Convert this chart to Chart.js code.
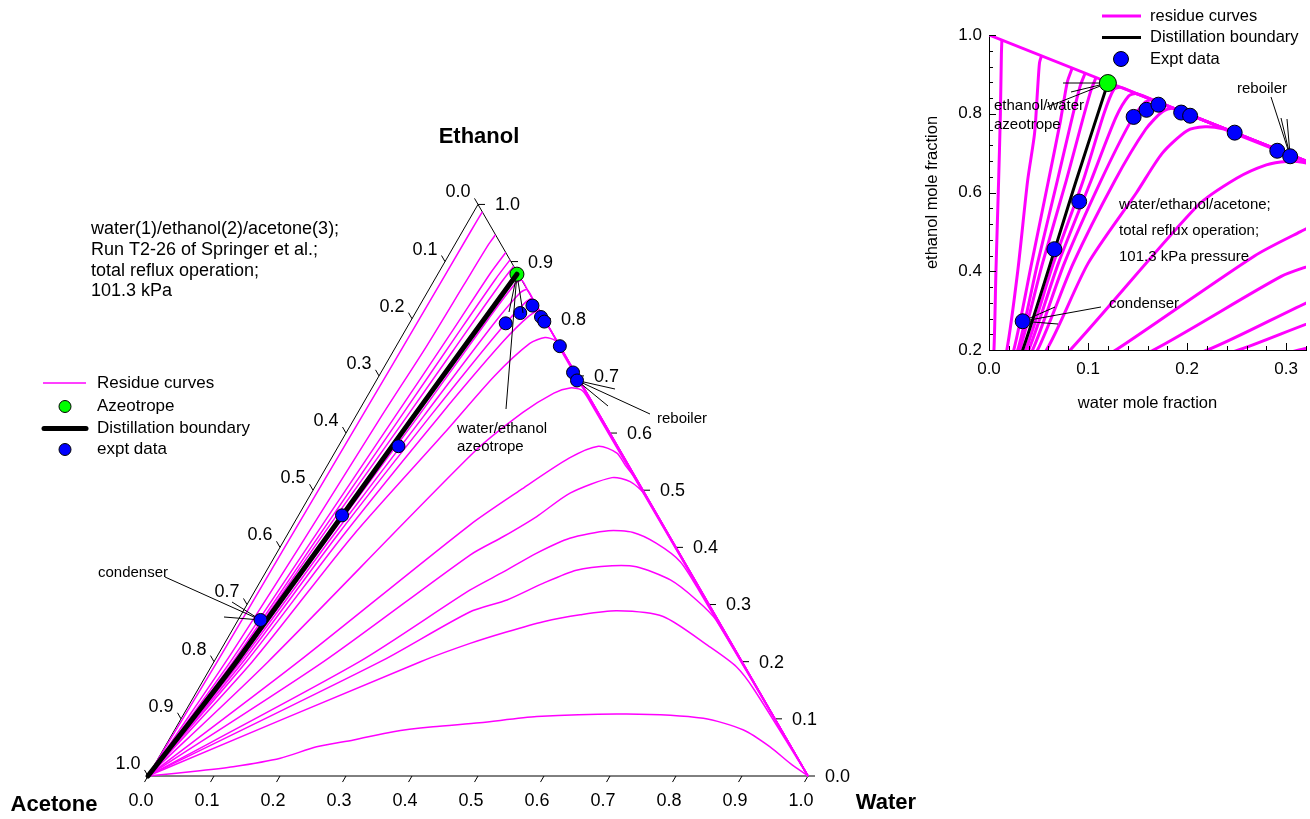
<!DOCTYPE html>
<html>
<head>
<meta charset="utf-8">
<script src="https://cdn.jsdelivr.net/npm/chart.js@4.4.1/dist/chart.umd.min.js"></script>
<style>
  html, body { margin: 0; padding: 0; background: #fff; width: 1310px; height: 819px; overflow: hidden; position: relative; }
  #ternary { position: absolute; left: 0; top: 0; }
  #xy { position: absolute; left: 910px; top: 0; }
</style>
</head>
<body>
<canvas id="ternary" width="930" height="819"></canvas>
<canvas id="xy" width="400" height="420"></canvas>
<script>
// Compositions are [water, ethanol] mole fractions; acetone = 1 - water - ethanol.

// Residue curves that end in pure ethanol (left of the distillation boundary)
const ethanolRegionCurves = [
  [[0,0],[0.005,0.2],[0.007,0.4],[0.0097,0.63],[0.0115,0.8],[0.0125,0.95],[0.013,0.987]],
  [[0,0],[0.018,0.2],[0.029,0.4],[0.039,0.63],[0.046,0.75],[0.049,0.86],[0.051,0.93],[0.053,0.947]],
  [[0,0],[0.025,0.2],[0.043,0.42],[0.060,0.63],[0.072,0.78],[0.079,0.88],[0.084,0.916]],
  [[0,0],[0.029,0.2],[0.049,0.42],[0.069,0.63],[0.083,0.78],[0.092,0.87],[0.097,0.903]],
  [[0,0],[0.031,0.2],[0.054,0.42],[0.078,0.63],[0.094,0.78],[0.103,0.86],[0.108,0.892]]
];

// Residue curves that end in pure water (right of the distillation boundary)
const waterRegionCurves = [
  [[0,0],[0.037,0.2],[0.065,0.42],[0.095,0.63],[0.116,0.8],[0.126,0.862],[0.133,0.867],[0.15,0.85],[1,0]],
  [[0,0],[0.040,0.2],[0.070,0.42],[0.103,0.63],[0.128,0.79],[0.141,0.845],[0.149,0.851],[0.17,0.83],[1,0]],
  [[0,0],[0.044,0.2],[0.076,0.42],[0.113,0.63],[0.143,0.78],[0.158,0.83],[0.165,0.835],[0.19,0.81],[1,0]],
  [[0,0],[0.049,0.2],[0.085,0.42],[0.127,0.63],[0.158,0.76],[0.175,0.805],[0.186,0.814],[0.21,0.79],[1,0]],
  [[0,0],[0.058,0.2],[0.100,0.42],[0.149,0.6],[0.175,0.7],[0.200,0.757],[0.218,0.767],[0.236,0.762],[0.252,0.746],[1,0]],
  [[0,0],[0.082,0.2],[0.210,0.565],[0.250,0.636],[0.280,0.670],[0.300,0.679],[0.318,0.676],[0.336,0.661],[1,0]],
  [[0,0],[0.128,0.2],[0.268,0.439],[0.314,0.5],[0.360,0.556],[0.394,0.577],[0.428,0.565],[0.452,0.543],[0.482,0.517],[1,0]],
  [[0,0],[0.166,0.2],[0.295,0.387],[0.329,0.419],[0.362,0.454],[0.392,0.495],[0.442,0.522],[0.473,0.515],[0.507,0.492],[1,0]],
  [[0,0],[0.2205,0.2],[0.325,0.325],[0.360,0.357],[0.394,0.39],[0.431,0.416],[0.483,0.429],[0.522,0.426],[0.567,0.407],[0.619,0.375],[0.675,0.322],[1,0]],
  [[0,0],[0.252,0.2],[0.344,0.287],[0.390,0.308],[0.430,0.337],[0.469,0.36],[0.519,0.368],[0.557,0.366],[0.620,0.343],[0.677,0.308],[0.724,0.273],[1,0]],
  [[0,0],[0.313,0.2],[0.372,0.232],[0.417,0.252],[0.464,0.27],[0.514,0.282],[0.566,0.289],[0.641,0.279],[0.738,0.226],[0.796,0.191],[0.844,0.15],[1,0]],
  [[0,0],[0.074,0.009],[0.121,0.016],[0.185,0.031],[0.230,0.051],[0.280,0.063],[0.333,0.0775],[0.389,0.086],[0.456,0.093],[0.537,0.104],[0.671,0.1085],[0.791,0.101],[0.862,0.0805],[0.917,0.051],[0.962,0.022],[1,0]]
];

const distillationBoundary = [[0,0],[0.034,0.2],[0.088,0.63],[0.120,0.878]];
const azeotrope = [[0.120,0.878]];

// Column profile, condenser first, reboiler last
const exptData = [
  [0.034,0.273],[0.066,0.456],[0.091,0.577],[0.146,0.792],[0.159,0.810],[0.171,0.823],
  [0.194,0.803],[0.203,0.795],[0.248,0.752],[0.291,0.706],[0.304,0.692]
];

const ternaryTicks = [0.0,0.1,0.2,0.3,0.4,0.5,0.6,0.7,0.8,0.9,1.0];

const FONT = '"Liberation Sans", Arial, Helvetica, sans-serif';
const MAGENTA = '#ff00ff', BLUE = '#0000ff', GREEN = '#00ff00', BLACK = '#000000';
const H = Math.sqrt(3) / 2;

const toTriangle = ([w, e]) => ({ x: w + e / 2, y: e * H });
const toXY = ([w, e]) => ({ x: w, y: e });

function font(size, bold) { return (bold ? 'bold ' : '') + size + 'px ' + FONT; }
function seg(ctx, a, b) { ctx.beginPath(); ctx.moveTo(a[0], a[1]); ctx.lineTo(b[0], b[1]); ctx.stroke(); }
function label(ctx, txt, x, y, align) {
  ctx.textAlign = align || 'left'; ctx.textBaseline = 'middle'; ctx.fillText(txt, x, y);
}
// leader lines from a marker edge out to fixed anchor points
function leaders(ctx, p, r, ends) {
  ends.forEach(([ex, ey]) => {
    const dx = ex - p[0], dy = ey - p[1], d = Math.hypot(dx, dy);
    seg(ctx, [p[0] + dx / d * r, p[1] + dy / d * r], [ex, ey]);
  });
}
function dot(ctx, x, y, r, fill) {
  ctx.beginPath(); ctx.arc(x, y, r, 0, Math.PI * 2);
  ctx.fillStyle = fill; ctx.fill(); ctx.lineWidth = 1; ctx.strokeStyle = BLACK; ctx.stroke();
}

function buildDatasets(map, lineW, boundaryW, markerR, aze, clip) {
  const curves = ethanolRegionCurves.concat(waterRegionCurves).map(c => ({
    data: c.map(map), showLine: true, borderColor: MAGENTA, borderWidth: lineW,
    pointRadius: 0, tension: 0.25, order: 5, clip: clip
  }));
  return curves.concat([
    { data: azeotrope.map(map), showLine: false, pointRadius: aze.r, pointBackgroundColor: GREEN,
      pointBorderColor: BLACK, pointBorderWidth: 1, order: aze.order, clip: false },
    { data: distillationBoundary.map(map), showLine: true, borderColor: BLACK, borderWidth: boundaryW,
      borderCapStyle: 'round', pointRadius: 0, tension: 0.2, order: 3, clip: clip },
    { data: exptData.map(map), showLine: false, pointRadius: markerR, pointBackgroundColor: BLUE,
      pointBorderColor: BLACK, pointBorderWidth: 1, order: 1, clip: false }
  ]);
}

/* ---------- ternary diagram ---------- */
const ternaryFrame = {
  id: 'ternaryFrame',
  beforeDatasetsDraw(chart) {
    const { ctx, scales: { x, y } } = chart;
    const P = (w, e) => [x.getPixelForValue(w + e / 2), y.getPixelForValue(e * H)];
    ctx.save();
    ctx.strokeStyle = BLACK; ctx.lineWidth = 1; ctx.fillStyle = BLACK;
    const A = P(0, 0), W = P(1, 0), E = P(0, 1);
    ctx.beginPath(); ctx.moveTo(A[0], A[1]); ctx.lineTo(W[0], W[1]); ctx.lineTo(E[0], E[1]); ctx.closePath(); ctx.stroke();
    const L = 7;
    ctx.font = font(18);
    ternaryTicks.forEach(t => {
      const s = t.toFixed(1);
      let p = P(t, 0);                       // water, bottom side
      seg(ctx, p, [p[0] - 0.5 * L, p[1] + H * L]);
      label(ctx, s, p[0] - 7, p[1] + 25, 'center');
      p = P(0, 1 - t);                       // acetone, left side
      seg(ctx, p, [p[0] - 0.5 * L, p[1] - H * L]);
      label(ctx, s, p[0] - 20, p[1] - 12, 'center');
      p = P(1 - t, t);                       // ethanol, right side
      seg(ctx, p, [p[0] + L, p[1]]);
      label(ctx, s, p[0] + 17, p[1] + 1, 'left');
    });
    ctx.font = font(22, true);
    label(ctx, 'Ethanol', E[0] + 1, 137, 'center');
    label(ctx, 'Acetone', 54, 805, 'center');
    label(ctx, 'Water', 886, 803, 'center');
    ctx.restore();
  },
  afterDatasetsDraw(chart) {
    const { ctx, scales: { x, y } } = chart;
    const P = ([w, e]) => [x.getPixelForValue(w + e / 2), y.getPixelForValue(e * H)];
    ctx.save();
    ctx.fillStyle = BLACK; ctx.strokeStyle = BLACK; ctx.lineWidth = 1;
    // run description
    ctx.font = font(18);
    ['water(1)/ethanol(2)/acetone(3);', 'Run T2-26 of Springer et al.;', 'total reflux operation;', '101.3 kPa']
      .forEach((s, i) => label(ctx, s, 91, 229 + i * 20.8, 'left'));
    // annotations
    ctx.font = font(15);
    label(ctx, 'water/ethanol', 457, 429); label(ctx, 'azeotrope', 457, 447);
    leaders(ctx, P(azeotrope[0]), 7, [[506, 409], [509, 312], [523, 313]]);
    label(ctx, 'reboiler', 657, 419);
    leaders(ctx, P(exptData[exptData.length - 1]), 6.5, [[650, 414], [615, 389], [608, 406]]);
    label(ctx, 'condenser', 98, 573);
    leaders(ctx, P(exptData[0]), 6.5, [[165, 577], [224, 617], [232, 602]]);
    // legend
    ctx.font = font(17);
    ctx.strokeStyle = MAGENTA; ctx.lineWidth = 1.5; seg(ctx, [43, 383], [86, 383]);
    label(ctx, 'Residue curves', 97, 383);
    dot(ctx, 65, 406.5, 6, GREEN);
    ctx.fillStyle = BLACK; label(ctx, 'Azeotrope', 97, 406.5);
    ctx.strokeStyle = BLACK; ctx.lineWidth = 5; ctx.lineCap = 'round'; seg(ctx, [44, 428.5], [86, 428.5]);
    ctx.lineCap = 'butt';
    label(ctx, 'Distillation boundary', 97, 428.5);
    dot(ctx, 65, 449.5, 6, BLUE);
    ctx.fillStyle = BLACK; label(ctx, 'expt data', 97, 449.5);
    ctx.restore();
  }
};

new Chart(document.getElementById('ternary'), {
  type: 'scatter',
  data: { datasets: buildDatasets(toTriangle, 1.5, 5, 6.5, { r: 7, order: 4 }, false) },
  options: {
    responsive: false, animation: false, events: [],
    layout: { padding: 0, autoPadding: false },
    plugins: { legend: { display: false }, tooltip: { enabled: false } },
    scales: {
      x: { type: 'linear', display: false, min: -148 / 660, max: 782 / 660 },
      y: { type: 'linear', display: false, min: -43 / 660, max: 776 / 660 }
    }
  },
  plugins: [ternaryFrame]
});

/* ---------- water/ethanol close-up ---------- */
const insetDecor = {
  id: 'insetDecor',
  beforeDatasetsDraw(chart) {
    const { ctx, chartArea: a, scales: { x, y } } = chart;
    // acetone-free side of the triangle
    ctx.save();
    ctx.beginPath(); ctx.rect(a.left, a.top, a.right - a.left, a.bottom - a.top); ctx.clip();
    ctx.strokeStyle = MAGENTA; ctx.lineWidth = 3;
    seg(ctx, [x.getPixelForValue(0), y.getPixelForValue(1)], [x.getPixelForValue(1), y.getPixelForValue(0)]);
    ctx.restore();
  },
  afterDraw(chart) {
    const { ctx, chartArea: a, scales: { x, y } } = chart;
    ctx.save();
    ctx.strokeStyle = BLACK; ctx.lineWidth = 1;
    x.ticks.forEach(t => {
      const px = Math.round(x.getPixelForValue(t.value)) + 0.5;
      seg(ctx, [px, a.bottom], [px, a.bottom - (t.label !== '' ? 7 : 4)]);
    });
    y.ticks.forEach(t => {
      const py = Math.round(y.getPixelForValue(t.value)) + 0.5;
      seg(ctx, [a.left, py], [a.left + (t.label !== '' ? 7 : 4), py]);
    });
    ctx.restore();
  },
  afterDatasetsDraw(chart) {
    const { ctx, scales: { x, y } } = chart;
    const P = ([w, e]) => [x.getPixelForValue(w), y.getPixelForValue(e)];
    const ox = 910;
    ctx.save();
    ctx.fillStyle = BLACK; ctx.strokeStyle = BLACK; ctx.lineWidth = 1;
    ctx.font = font(15);
    label(ctx, 'ethanol/water', 994 - ox, 106); label(ctx, 'azeotrope', 994 - ox, 125);
    leaders(ctx, P(azeotrope[0]), 8.5, [[1063 - ox, 83], [1071 - ox, 92], [1047 - ox, 107]]);
    label(ctx, 'reboiler', 1237 - ox, 89);
    leaders(ctx, P(exptData[exptData.length - 1]), 7.5, [[1271 - ox, 97], [1281 - ox, 118], [1287 - ox, 119]]);
    label(ctx, 'condenser', 1109 - ox, 304);
    leaders(ctx, P(exptData[0]), 7.5, [[1101 - ox, 307], [1055 - ox, 307], [1058 - ox, 324]]);
    ['water/ethanol/acetone;', 'total reflux operation;', '101.3 kPa pressure']
      .forEach((s, i) => label(ctx, s, 1119 - ox, 205 + i * 26, 'left'));
    // legend
    ctx.font = font(16.5);
    ctx.strokeStyle = MAGENTA; ctx.lineWidth = 3; seg(ctx, [1102 - ox, 16], [1141 - ox, 16]);
    label(ctx, 'residue curves', 1150 - ox, 16);
    ctx.strokeStyle = BLACK; seg(ctx, [1102 - ox, 37.5], [1141 - ox, 37.5]);
    label(ctx, 'Distillation boundary', 1150 - ox, 37.5);
    dot(ctx, 1121 - ox, 59, 7.5, BLUE);
    ctx.fillStyle = BLACK; label(ctx, 'Expt data', 1150 - ox, 59);
    ctx.restore();
  }
};

new Chart(document.getElementById('xy'), {
  type: 'scatter',
  data: { datasets: buildDatasets(toXY, 3, 3, 7.5, { r: 8.5, order: 2 }, 0) },
  options: {
    responsive: false, animation: false, events: [],
    layout: { padding: { left: 0, right: 4, top: 35, bottom: 0 }, autoPadding: false },
    plugins: { legend: { display: false }, tooltip: { enabled: false } },
    scales: {
      x: {
        type: 'linear', position: 'bottom', min: 0, max: 0.32,
        afterFit(s) { s.height = 70; s.paddingLeft = 0; s.paddingRight = 0; },
        ticks: {
          stepSize: 0.02, autoSkip: false, maxRotation: 0, padding: 9, color: BLACK,
          font: { family: FONT, size: 17 },
          callback(v) { return Math.abs(v * 10 - Math.round(v * 10)) < 1e-6 ? v.toFixed(1) : ''; }
        },
        grid: { drawOnChartArea: false, drawTicks: false },
        border: { display: true, color: BLACK, width: 1 },
        title: { display: true, text: 'water mole fraction', color: BLACK,
                 font: { family: FONT, size: 16.5 }, padding: { top: 0, bottom: 7 } }
      },
      y: {
        type: 'linear', position: 'left', min: 0.2, max: 1.0,
        afterFit(s) { s.width = 79; s.paddingTop = 0; s.paddingBottom = 0; },
        ticks: {
          stepSize: 0.04, autoSkip: false, padding: 7, color: BLACK,
          font: { family: FONT, size: 17 },
          callback(v) { return Math.abs(v * 5 - Math.round(v * 5)) < 1e-6 ? v.toFixed(1) : ''; }
        },
        grid: { drawOnChartArea: false, drawTicks: false },
        border: { display: true, color: BLACK, width: 1 },
        title: { display: true, text: 'ethanol mole fraction', color: BLACK,
                 font: { family: FONT, size: 16.5 }, padding: { top: 13, bottom: 0 } }
      }
    }
  },
  plugins: [insetDecor]
});
</script>
</body>
</html>
